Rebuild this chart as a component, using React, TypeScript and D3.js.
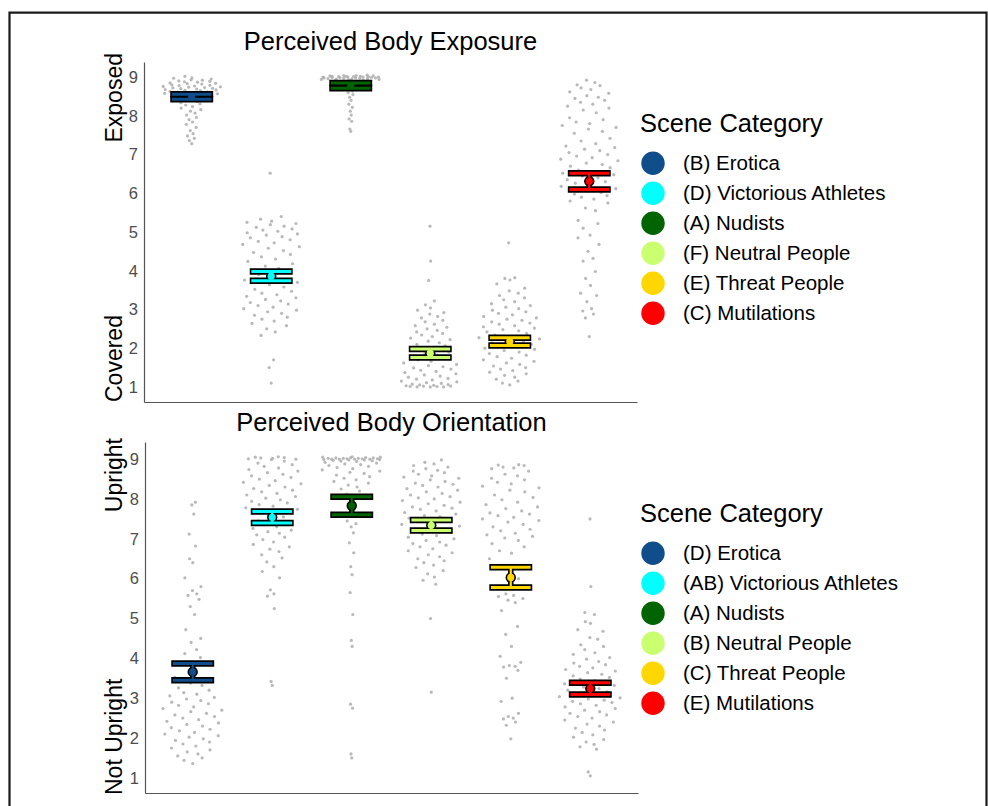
import React, { useEffect, useRef } from 'react';
import * as d3 from 'd3';

const CATEGORIES = ['Erotica', 'Victorious Athletes', 'Nudists', 'Neutral People', 'Threat People', 'Mutilations'];
const COLORS = ['#104E8B', '#00FFFF', '#006400', '#CAFF70', '#FFD700', '#FF0000'];

const EXPOSURE_LEGEND = ['(B) Erotica', '(D) Victorious Athletes', '(A) Nudists', '(F) Neutral People', '(E) Threat People', '(C) Mutilations'];
const ORIENTATION_LEGEND = ['(D) Erotica', '(AB) Victorious Athletes', '(A) Nudists', '(B) Neutral People', '(C) Threat People', '(E) Mutilations'];

const EXPOSURE_MEAN = [8.49, 3.86, 8.78, 1.87, 2.17, 6.31];
const EXPOSURE_SE = [0.065, 0.12, 0.065, 0.11, 0.1, 0.21];
const ORIENTATION_MEAN = [3.66, 7.54, 7.83, 7.34, 6.03, 3.24];
const ORIENTATION_SE = [0.21, 0.145, 0.225, 0.13, 0.255, 0.15];

const TICKS = [1, 2, 3, 4, 5, 6, 7, 8, 9];

// per-scene ratings, perceived body exposure
const exposureErotica = [9.02, 8.98, 8.97, 8.95, 8.93, 8.92, 8.9, 8.89, 8.88, 8.87, 8.85, 8.84, 8.83, 8.82, 8.8, 8.79, 8.78, 8.77, 8.76, 8.75, 8.74, 8.73, 8.72, 8.71, 8.7, 8.69, 8.68, 8.67, 8.66, 8.65, 8.63, 8.62, 8.61, 8.6, 8.58, 8.57, 8.55, 8.54, 8.52, 8.5, 8.48, 8.46, 8.44, 8.42, 8.4, 8.37, 8.34, 8.31, 8.28, 8.24, 8.2, 8.16, 8.12, 8.07, 8.02, 7.96, 7.9, 7.84, 7.78, 7.7, 7.62, 7.54, 7.48, 7.42, 7.36, 7.28];
const exposureAthletes = [6.52, 5.4, 5.33, 5.28, 5.25, 5.22, 5.19, 5.15, 5.12, 5.08, 5.05, 5.02, 4.98, 4.95, 4.92, 4.88, 4.85, 4.8, 4.76, 4.72, 4.68, 4.62, 4.58, 4.52, 4.47, 4.42, 4.36, 4.3, 4.24, 4.18, 4.12, 4.06, 4.0, 3.95, 3.9, 3.82, 3.76, 3.7, 3.64, 3.58, 3.52, 3.47, 3.42, 3.38, 3.34, 3.3, 3.26, 3.22, 3.18, 3.14, 3.1, 3.06, 3.02, 2.98, 2.94, 2.9, 2.85, 2.8, 2.75, 2.7, 2.64, 2.58, 2.5, 2.42, 2.33, 1.7, 1.5, 1.1];
const exposureNudists = [9.05, 9.04, 9.04, 9.03, 9.03, 9.02, 9.02, 9.02, 9.01, 9.01, 9.01, 9.0, 9.0, 9.0, 9.0, 8.99, 8.99, 8.99, 8.98, 8.98, 8.98, 8.97, 8.97, 8.96, 8.96, 8.95, 8.95, 8.94, 8.94, 8.93, 8.92, 8.91, 8.9, 8.89, 8.88, 8.87, 8.86, 8.85, 8.84, 8.83, 8.82, 8.8, 8.78, 8.75, 8.72, 8.68, 8.64, 8.6, 8.55, 8.48, 8.4, 8.3, 8.22, 8.12, 8.02, 7.92, 7.86, 7.66, 7.6];
const exposureNeutral = [5.15, 4.25, 3.75, 3.22, 3.12, 3.04, 2.98, 2.92, 2.88, 2.82, 2.78, 2.72, 2.68, 2.62, 2.58, 2.54, 2.5, 2.46, 2.42, 2.38, 2.34, 2.3, 2.26, 2.22, 2.18, 2.14, 2.1, 2.06, 2.02, 1.98, 1.94, 1.9, 1.86, 1.82, 1.78, 1.74, 1.7, 1.66, 1.62, 1.58, 1.55, 1.52, 1.49, 1.46, 1.43, 1.4, 1.37, 1.34, 1.31, 1.28, 1.25, 1.22, 1.2, 1.18, 1.15, 1.13, 1.11, 1.09, 1.07, 1.06, 1.05, 1.04, 1.03, 1.02, 1.02, 1.01, 1.01, 1.0, 1.0, 1.0];
const exposureThreat = [4.72, 3.82, 3.8, 3.76, 3.66, 3.55, 3.48, 3.42, 3.36, 3.3, 3.25, 3.2, 3.15, 3.1, 3.06, 3.02, 2.98, 2.94, 2.9, 2.86, 2.82, 2.78, 2.75, 2.72, 2.68, 2.65, 2.62, 2.58, 2.55, 2.52, 2.48, 2.45, 2.42, 2.38, 2.34, 2.3, 2.27, 2.24, 2.2, 2.17, 2.14, 2.1, 2.07, 2.04, 2.0, 1.97, 1.94, 1.9, 1.86, 1.82, 1.78, 1.74, 1.7, 1.66, 1.62, 1.58, 1.54, 1.5, 1.46, 1.42, 1.38, 1.34, 1.3, 1.25, 1.2, 1.15, 1.1, 1.05];
const exposureMutilations = [8.92, 8.86, 8.8, 8.78, 8.72, 8.68, 8.62, 8.58, 8.52, 8.48, 8.45, 8.4, 8.35, 8.3, 8.25, 8.2, 8.15, 8.08, 7.95, 7.9, 7.84, 7.8, 7.75, 7.7, 7.66, 7.6, 7.55, 7.42, 7.35, 7.28, 7.22, 7.18, 7.14, 7.1, 7.05, 7.0, 6.96, 6.92, 6.88, 6.84, 6.78, 6.74, 6.7, 6.66, 6.6, 6.56, 6.52, 6.48, 6.44, 6.4, 6.35, 6.3, 6.26, 6.22, 6.18, 6.12, 6.06, 6.02, 5.98, 5.94, 5.9, 5.85, 5.8, 5.75, 5.62, 5.55, 5.3, 5.22, 5.1, 4.92, 4.85, 4.68, 4.5, 4.32, 4.25, 3.98, 3.8, 3.62, 3.42, 3.36, 3.2, 3.02, 2.96, 2.88, 2.78, 2.3];

// per-scene ratings, perceived body orientation
const orientationErotica = [7.92, 7.85, 7.62, 7.12, 6.82, 6.5, 6.4, 6.02, 5.8, 5.7, 5.62, 5.58, 5.48, 5.3, 5.1, 4.72, 4.5, 4.4, 4.22, 4.12, 4.02, 3.92, 3.72, 3.52, 3.44, 3.38, 3.32, 3.26, 3.2, 3.14, 3.1, 3.06, 3.02, 2.98, 2.94, 2.9, 2.86, 2.82, 2.78, 2.74, 2.7, 2.66, 2.62, 2.58, 2.54, 2.5, 2.46, 2.42, 2.38, 2.34, 2.3, 2.26, 2.22, 2.18, 2.14, 2.1, 2.06, 2.02, 1.98, 1.94, 1.9, 1.85, 1.8, 1.75, 1.7, 1.65, 1.6, 1.55, 1.5, 1.44, 1.36];
const orientationAthletes = [9.06, 9.05, 9.04, 9.03, 9.02, 9.01, 9.0, 8.99, 8.95, 8.9, 8.86, 8.82, 8.78, 8.74, 8.7, 8.66, 8.62, 8.58, 8.54, 8.5, 8.46, 8.42, 8.38, 8.34, 8.3, 8.26, 8.22, 8.18, 8.14, 8.1, 8.06, 8.02, 7.98, 7.94, 7.9, 7.86, 7.82, 7.78, 7.74, 7.62, 7.55, 7.45, 7.4, 7.35, 7.3, 7.26, 7.22, 7.18, 7.14, 7.1, 7.04, 6.98, 6.92, 6.86, 6.8, 6.74, 6.68, 6.6, 6.52, 6.42, 6.3, 6.18, 6.02, 5.72, 5.62, 5.56, 5.25, 3.42, 3.32];
const orientationNudists = [9.06, 9.05, 9.05, 9.04, 9.04, 9.03, 9.03, 9.02, 9.02, 9.02, 9.01, 9.01, 9.01, 9.0, 9.0, 9.0, 9.0, 8.99, 8.99, 8.98, 8.98, 8.97, 8.96, 8.95, 8.94, 8.92, 8.9, 8.88, 8.86, 8.84, 8.82, 8.79, 8.76, 8.73, 8.7, 8.67, 8.64, 8.6, 8.56, 8.52, 8.48, 8.44, 8.4, 8.35, 8.3, 8.25, 8.2, 8.12, 7.62, 7.45, 7.38, 7.3, 7.15, 6.9, 6.65, 6.3, 6.1, 5.65, 5.1, 4.45, 4.3, 2.85, 2.75, 1.6, 1.5];
const orientationNeutral = [8.98, 8.92, 8.88, 8.84, 8.8, 8.76, 8.72, 8.7, 8.66, 8.62, 8.58, 8.55, 8.52, 8.48, 8.44, 8.4, 8.37, 8.34, 8.3, 8.26, 8.22, 8.18, 8.14, 8.1, 8.06, 8.03, 8.0, 7.96, 7.92, 7.88, 7.84, 7.8, 7.77, 7.74, 7.7, 7.66, 7.62, 7.58, 7.55, 7.52, 7.48, 7.44, 7.4, 7.36, 7.32, 7.28, 7.24, 7.2, 7.16, 7.12, 7.08, 7.04, 7.0, 6.96, 6.92, 6.88, 6.84, 6.8, 6.75, 6.7, 6.65, 6.6, 6.55, 6.5, 6.45, 6.4, 6.34, 6.28, 6.2, 6.12, 6.04, 5.96, 5.86, 5.0, 3.15];
const orientationThreat = [8.86, 8.85, 8.84, 8.8, 8.78, 8.76, 8.7, 8.62, 8.58, 8.52, 8.48, 8.42, 8.38, 8.32, 8.28, 8.22, 8.18, 8.1, 8.04, 7.98, 7.92, 7.86, 7.8, 7.76, 7.7, 7.65, 7.62, 7.58, 7.54, 7.5, 7.46, 7.42, 7.36, 7.3, 7.24, 7.2, 7.14, 7.1, 7.06, 7.02, 6.96, 6.88, 6.8, 6.7, 6.64, 6.5, 6.32, 6.2, 6.0, 5.82, 5.78, 5.62, 5.58, 5.55, 5.5, 5.46, 5.4, 5.2, 4.8, 4.6, 4.3, 4.05, 3.9, 3.82, 3.8, 3.78, 3.7, 3.5, 3.0, 2.92, 2.62, 2.54, 2.5, 2.48, 2.4, 2.32, 1.98];
const orientationMutilations = [7.5, 5.8, 5.15, 5.1, 4.92, 4.88, 4.72, 4.68, 4.52, 4.48, 4.34, 4.3, 4.22, 4.14, 4.1, 4.02, 3.98, 3.92, 3.88, 3.84, 3.8, 3.76, 3.72, 3.68, 3.64, 3.6, 3.56, 3.52, 3.48, 3.44, 3.36, 3.32, 3.28, 3.24, 3.2, 3.16, 3.12, 3.08, 3.04, 3.01, 2.98, 2.95, 2.92, 2.89, 2.86, 2.82, 2.78, 2.74, 2.7, 2.66, 2.62, 2.58, 2.54, 2.5, 2.45, 2.4, 2.35, 2.3, 2.25, 2.2, 2.14, 2.08, 2.02, 1.96, 1.9, 1.84, 1.78, 1.72, 1.15, 1.05];

const FONT = 'Liberation Sans, Arial, Helvetica, sans-serif';

// van der Corput sequence, base 2
function vdc(n: number) {
    let q = 0, bk = 0.5;
    while (n > 0) { q += (n % 2) * bk; n = Math.floor(n / 2); bk /= 2; }
    return q;
}

// quasirandom horizontal offsets (like ggbeeswarm::geom_quasirandom)
function quasiOffsets(vals: number[], width: number) {
    const n = vals.length;
    const sd = d3.deviation(vals) || 0.1;
    const sorted = [...vals].sort((a, b) => a - b);
    const iqr = (d3.quantile(sorted, 0.75)! - d3.quantile(sorted, 0.25)!) / 1.34;
    const lo = Math.min(sd, iqr > 0 ? iqr : sd);
    const bw = 0.9 * lo * Math.pow(n, -0.2);
    const dens = vals.map(v => d3.sum(vals, w => Math.exp(-0.5 * ((v - w) / bw) ** 2)));
    const maxD = d3.max(dens)!;
    const order = d3.range(n).sort((a, b) => vals[a] - vals[b] || a - b);
    const off = new Array(n).fill(0);
    order.forEach((idx, rank) => {
        off[idx] = (vdc(rank + 1) - 0.5) * 2 * width * dens[idx] / maxD;
    });
    return off;
}

function App() {
    const svgRef = useRef(null);

    useEffect(() => {
        const svg = d3.select(svgRef.current);
        svg.selectAll('*').remove();

        // outer frame
        svg.append('path').attr('d', 'M9.5,806 V12.7 H986.5 V806')
            .attr('fill', 'none').attr('stroke', '#1a1a1a').attr('stroke-width', 2.2);

        const panels = [
            {
                title: 'Perceived Body Exposure', ratings: [exposureErotica, exposureAthletes, exposureNudists, exposureNeutral, exposureThreat, exposureMutilations],
                mean: EXPOSURE_MEAN, se: EXPOSURE_SE, legend: EXPOSURE_LEGEND, high: 'Exposed', low: 'Covered',
                x0: 144, x1: 637, yTop: 62, yBot: 402, dom: [0.61, 9.39], titleY: 50, highY: 53, lowY: 402,
                legTitleY: 131.7, legY: 163.3,
            },
            {
                title: 'Perceived Body Orientation', ratings: [orientationErotica, orientationAthletes, orientationNudists, orientationNeutral, orientationThreat, orientationMutilations],
                mean: ORIENTATION_MEAN, se: ORIENTATION_SE, legend: ORIENTATION_LEGEND, high: 'Upright', low: 'Not Upright',
                x0: 145, x1: 638, yTop: 442, yBot: 793, dom: [0.62, 9.43], titleY: 431, highY: 438, lowY: 795,
                legTitleY: 521.7, legY: 553.3,
            },
        ];

        panels.forEach(p => {
            const x = d3.scalePoint().domain(CATEGORIES).range([p.x0, p.x1]).padding(0.6);
            const y = d3.scaleLinear().domain(p.dom).range([p.yBot, p.yTop]);
            const g = svg.append('g');

            // axes
            const ya = g.append('g').attr('transform', `translate(${p.x0},0)`)
                .call(d3.axisLeft(y).tickValues(TICKS).tickSize(0).tickPadding(6).tickFormat(d3.format('d')));
            ya.select('.domain').attr('stroke', '#555').attr('stroke-width', 1.2);
            ya.selectAll('text').attr('font-size', 16.5).attr('fill', '#4D4D4D').attr('font-family', FONT);
            const xa = g.append('g').attr('transform', `translate(0,${p.yBot})`)
                .call(d3.axisBottom(x).tickSize(0).tickFormat(() => ''));
            xa.select('.domain').attr('stroke', '#555').attr('stroke-width', 1.2);

            // titles
            g.append('text').attr('x', (p.x0 + p.x1) / 2).attr('y', p.titleY).attr('text-anchor', 'middle')
                .attr('font-size', 25.5).attr('font-family', FONT).attr('fill', '#000').text(p.title);
            g.append('text').attr('transform', `translate(122,${p.highY}) rotate(-90)`).attr('text-anchor', 'end')
                .attr('font-size', 23).attr('font-family', FONT).text(p.high);
            g.append('text').attr('transform', `translate(122,${p.lowY}) rotate(-90)`).attr('text-anchor', 'start')
                .attr('font-size', 23).attr('font-family', FONT).text(p.low);

            // jittered points
            const step = x.step();
            p.ratings.forEach((vals, i) => {
                const off = quasiOffsets(vals, 0.4 * step);
                g.append('g').selectAll('circle').data(vals).join('circle')
                    .attr('cx', (d, j) => x(CATEGORIES[i])! + off[j])
                    .attr('cy', d => y(d))
                    .attr('r', 1.6)
                    .attr('fill', '#adadad')
                    .attr('opacity', 0.85);
            });

            // mean +/- SE bars: black outline layer, then colour layer
            const bars = CATEGORIES.map((c, i) => ({ cx: x(c)!, m: p.mean[i], lo: p.mean[i] - p.se[i], hi: p.mean[i] + p.se[i], col: COLORS[i] }));
            const hw = 0.25 * step;
            const layer = (outline: boolean) => {
                const lg = g.append('g');
                bars.forEach(b => {
                    const stroke = outline ? '#000' : b.col;
                    lg.append('line').attr('x1', b.cx).attr('x2', b.cx).attr('y1', y(b.lo)).attr('y2', y(b.hi))
                        .attr('stroke', stroke).attr('stroke-width', outline ? 5.5 : 2.2);
                    [b.lo, b.hi].forEach(v => {
                        lg.append('line')
                            .attr('x1', b.cx - hw - (outline ? 1.6 : 0)).attr('x2', b.cx + hw + (outline ? 1.6 : 0))
                            .attr('y1', y(v)).attr('y2', y(v))
                            .attr('stroke', stroke).attr('stroke-width', outline ? 6.5 : 3);
                    });
                    lg.append('circle').attr('cx', b.cx).attr('cy', y(b.m)).attr('r', outline ? 5.2 : 3.6).attr('fill', stroke);
                });
            };
            layer(true);
            layer(false);

            // legend
            const leg = g.append('g');
            leg.append('text').attr('x', 640).attr('y', p.legTitleY).attr('font-size', 25.5).attr('font-family', FONT).text('Scene Category');
            p.legend.forEach((lab, i) => {
                const cy = p.legY + i * 30;
                leg.append('circle').attr('cx', 653).attr('cy', cy).attr('r', 11.7).attr('fill', COLORS[i]);
                leg.append('text').attr('x', 683).attr('y', cy + 7).attr('font-size', 20.5).attr('font-family', FONT).text(lab);
            });
        });
    }, []);

    return (
        <svg ref={svgRef} width={988} height={806}
            style={{ position: 'absolute', left: 0, top: 0, background: '#fff' }} />
    );
}

export default App;
